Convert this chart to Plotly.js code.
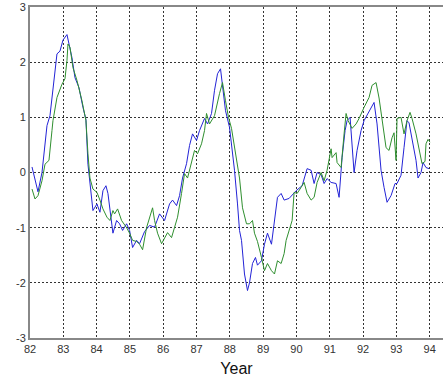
<!DOCTYPE html>
<html>
<head>
<meta charset="utf-8">
<script src="https://cdn.plot.ly/plotly-3.0.1.min.js"></script>
<style>html,body{margin:0;padding:0;background:#fff;}#plot{width:443px;height:379px;}</style>
</head>
<body>
<div id="plot"></div>
<script>
const blueYears = [82.06,82.24,82.36,82.51,82.60,82.69,82.81,82.90,82.99,83.11,83.17,83.26,83.35,83.47,83.59,83.68,83.74,83.86,83.89,84.01,84.10,84.19,84.28,84.34,84.46,84.49,84.60,84.69,84.78,84.90,84.99,85.08,85.20,85.29,85.44,85.59,85.74,85.89,86.04,86.19,86.28,86.40,86.49,86.58,86.70,86.79,86.88,87.00,87.09,87.24,87.33,87.45,87.54,87.63,87.72,87.78,87.87,87.99,88.14,88.23,88.29,88.35,88.44,88.53,88.59,88.68,88.77,88.83,88.95,89.04,89.13,89.25,89.34,89.43,89.54,89.63,89.78,89.99,90.17,90.32,90.44,90.53,90.62,90.74,90.83,90.92,91.04,91.19,91.28,91.37,91.46,91.52,91.61,91.73,91.82,91.94,92.03,92.18,92.33,92.42,92.54,92.63,92.72,92.84,92.96,93.02,93.14,93.23,93.32,93.38,93.47,93.59,93.65,93.74,93.80,93.89,93.98];
const blueValues = [0.10,-0.35,0.00,0.85,1.03,1.49,2.15,2.20,2.40,2.50,2.35,2.08,1.72,1.54,1.18,0.96,0.15,-0.45,-0.69,-0.57,-0.72,-0.33,-0.24,-0.38,-0.93,-1.10,-0.87,-0.93,-1.05,-0.93,-1.05,-1.36,-1.23,-1.29,-1.07,-0.96,-0.99,-0.75,-0.87,-0.57,-0.50,-0.60,-0.42,-0.10,0.16,0.49,0.70,0.58,0.76,0.98,0.88,1.07,1.49,1.79,1.88,1.54,1.12,0.82,0.04,-0.57,-1.05,-1.23,-1.84,-2.14,-2.00,-1.65,-1.54,-1.68,-1.60,-1.30,-1.10,-1.30,-0.87,-0.45,-0.38,-0.50,-0.47,-0.33,-0.24,0.07,0.04,-0.20,0.00,-0.04,-0.20,-0.11,-0.18,-0.20,-0.45,0.27,0.76,0.94,1.00,0.00,0.40,0.76,0.94,1.12,1.27,0.88,0.04,-0.27,-0.54,-0.42,-0.20,-0.20,-0.05,0.45,0.94,0.90,0.63,0.22,-0.10,0.00,0.18,0.09,0.07];

const greenYears = [82.06,82.15,82.24,82.36,82.45,82.57,82.66,82.69,82.81,82.96,83.05,83.11,83.14,83.20,83.29,83.41,83.56,83.68,83.74,83.80,83.89,84.01,84.10,84.19,84.31,84.40,84.49,84.54,84.63,84.75,84.90,84.99,85.08,85.20,85.29,85.38,85.50,85.59,85.68,85.74,85.83,85.95,86.04,86.13,86.25,86.34,86.43,86.55,86.64,86.73,86.85,86.94,87.03,87.15,87.24,87.30,87.39,87.54,87.69,87.78,87.87,87.96,88.05,88.14,88.20,88.29,88.38,88.50,88.59,88.68,88.74,88.83,88.95,89.04,89.13,89.25,89.34,89.43,89.54,89.63,89.69,89.78,89.87,89.93,90.02,90.14,90.23,90.32,90.44,90.53,90.62,90.74,90.83,90.92,91.04,91.07,91.19,91.22,91.34,91.43,91.49,91.55,91.67,91.79,91.88,92.03,92.18,92.27,92.39,92.48,92.57,92.69,92.78,92.87,92.93,92.99,93.02,93.14,93.23,93.32,93.41,93.47,93.59,93.68,93.77,93.86,93.89,93.95,94.01];
const greenValues = [-0.30,-0.48,-0.42,-0.15,0.15,0.22,0.76,0.94,1.36,1.60,1.70,2.03,2.33,2.27,1.90,1.67,1.30,0.94,0.34,-0.10,-0.30,-0.36,-0.50,-0.66,-0.81,-0.87,-0.69,-0.75,-0.66,-0.87,-1.00,-1.10,-1.23,-1.25,-1.30,-1.40,-1.00,-0.81,-0.64,-0.87,-1.10,-1.29,-1.18,-1.09,-1.18,-1.00,-0.81,-0.38,-0.02,-0.10,0.22,0.40,0.34,0.52,0.76,1.07,0.88,1.03,1.43,1.63,1.30,1.00,0.80,0.45,0.22,-0.10,-0.64,-0.93,-0.93,-0.87,-1.10,-1.25,-1.54,-1.78,-1.65,-1.78,-1.84,-1.60,-1.65,-1.47,-1.23,-1.05,-0.87,-0.36,-0.38,-0.27,-0.18,-0.38,-0.50,-0.45,-0.18,0.00,-0.15,0.04,0.43,0.27,0.36,0.18,0.09,0.70,1.07,0.94,0.80,0.88,0.98,1.18,1.36,1.58,1.63,1.35,0.94,0.45,0.40,0.63,0.72,0.22,0.98,1.00,0.70,0.94,1.09,0.98,0.70,0.40,0.16,0.20,0.52,0.60,0.55];

const xTicks = [82,83,84,85,86,87,88,89,90,91,92,93,94];
const yTicks = [-3,-2,-1,0,1,2,3];

const traces = [
  {x: blueYears, y: blueValues, type: 'scatter', mode: 'lines',
   line: {color: '#2323d6', width: 1}, hoverinfo: 'skip'},
  {x: greenYears, y: greenValues, type: 'scatter', mode: 'lines',
   line: {color: '#2f8f2f', width: 1}, hoverinfo: 'skip'}
];

const tickFont = {family: 'Liberation Sans, Arial, sans-serif', size: 11, color: '#333'};
const layout = {
  width: 443, height: 379,
  margin: {l: 30, r: 0, t: 7, b: 41, pad: 0},
  paper_bgcolor: '#fff', plot_bgcolor: '#fff',
  showlegend: false,
  xaxis: {
    range: [82, 94.4], tickvals: xTicks, ticktext: xTicks.map(String),
    showgrid: true, gridcolor: '#333', griddash: '2px,2px', gridwidth: 1,
    zeroline: false, showline: true, linecolor: '#888', linewidth: 2, mirror: true,
    ticks: '', tickfont: tickFont,
    title: {text: 'Year', font: {family: 'Liberation Sans, Arial, sans-serif', size: 16, color: '#111'}, standoff: 9}
  },
  yaxis: {
    range: [-3, 3], tickvals: yTicks, ticktext: yTicks.map(String),
    showgrid: true, gridcolor: '#333', griddash: '2px,2px', gridwidth: 1,
    zeroline: false, showline: true, linecolor: '#888', linewidth: 2, mirror: false,
    ticks: '', tickfont: tickFont
  }
};
Plotly.newPlot('plot', traces, layout, {staticPlot: true, displayModeBar: false});
</script>
</body>
</html>
